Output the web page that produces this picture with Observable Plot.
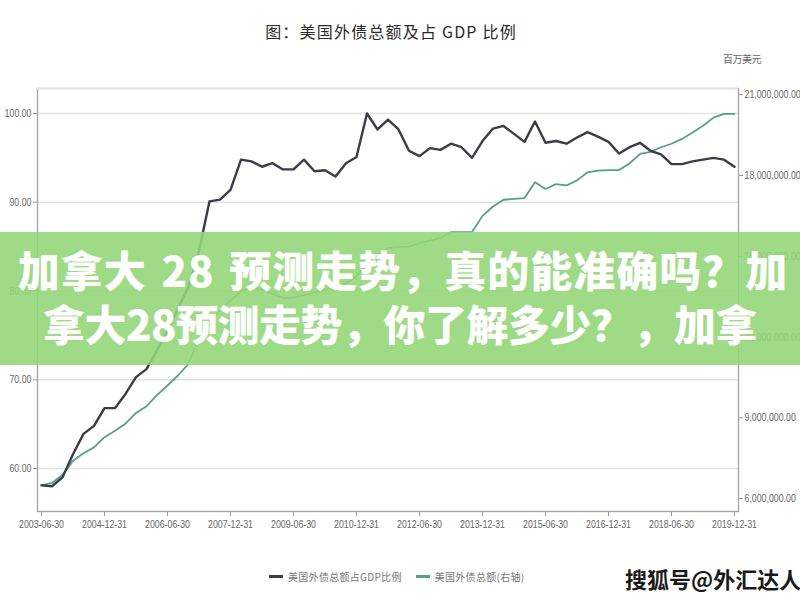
<!DOCTYPE html>
<html>
<head>
<meta charset="utf-8">
<script src="https://cdn.jsdelivr.net/npm/d3@7"></script>
<script src="https://cdn.jsdelivr.net/npm/@observablehq/plot@0.6"></script>
<style>
  html, body { margin: 0; padding: 0; background: #fff; }
  #wrap { position: relative; width: 800px; height: 600px; overflow: hidden; background: #fff; }
  #chart { position: absolute; left: 0; top: 0; }
  #chart svg text { font-family: "Liberation Sans", Arial, sans-serif; font-size: 11px; }
  .abs { position: absolute; z-index: 2; }
  #title { left: 0; top: 19px; width: 782px; text-align: center; font: 16px "Noto Sans CJK SC", sans-serif; color: #2a2a2a; letter-spacing: 1.2px; }
  #unit { left: 723px; top: 51px; font: 10px "Noto Sans CJK SC", sans-serif; color: #666; letter-spacing: -0.5px; }
  #legend { left: 269px; top: 569px; font: 10px "Noto Sans CJK SC", sans-serif; color: #777; display: flex; align-items: center; white-space: nowrap; letter-spacing: 0.3px; }
  .sw { display: inline-block; width: 14px; height: 3px; margin-right: 5px; }
  .item { display: flex; align-items: center; margin-right: 14px; }
  #banner { left: 0; top: 232px; width: 800px; height: 133px; background: rgba(146, 214, 118, 0.88); z-index: 3;
            color: #fff; font: 900 42px "Noto Sans CJK SC", sans-serif; text-align: center; line-height: 54px; padding-top: 10px; box-sizing: border-box; white-space: nowrap; letter-spacing: -0.5px; }
  #banner .l1 { word-spacing: 4px; letter-spacing: 1px; margin-left: 6px; }
  #wm { left: 625px; top: 562px; font: bold 22px "Noto Sans CJK SC", sans-serif; color: #1a1a1a; z-index: 4;
        text-shadow: 1px 1px 0 #fff, -1px -1px 0 #fff, 1px -1px 0 #fff, -1px 1px 0 #fff; white-space: nowrap; }
</style>
</head>
<body>
<div id="wrap">
  <div id="chart"></div>
  <div id="title" class="abs">图：美国外债总额及占 GDP 比例</div>
  <div id="unit" class="abs">百万美元</div>
  <div id="legend" class="abs"></div>
  <div id="banner" class="abs"><div class="l1">加拿大 28 预测走势，真的能准确吗？加</div><div>拿大28预测走势，你了解多少？，加拿</div></div>
  <div id="wm" class="abs">搜狐号@外汇达人</div>
</div>
<script>
// Quarter-end dates (categories)
const dates = [
  "2003-06-30","2003-09-30","2003-12-31",
  "2004-03-31","2004-06-30","2004-09-30","2004-12-31",
  "2005-03-31","2005-06-30","2005-09-30","2005-12-31",
  "2006-03-31","2006-06-30","2006-09-30","2006-12-31",
  "2007-03-31","2007-06-30","2007-09-30","2007-12-31",
  "2008-03-31","2008-06-30","2008-09-30","2008-12-31",
  "2009-03-31","2009-06-30","2009-09-30","2009-12-31",
  "2010-03-31","2010-06-30","2010-09-30","2010-12-31",
  "2011-03-31","2011-06-30","2011-09-30","2011-12-31",
  "2012-03-31","2012-06-30","2012-09-30","2012-12-31",
  "2013-03-31","2013-06-30","2013-09-30","2013-12-31",
  "2014-03-31","2014-06-30","2014-09-30","2014-12-31",
  "2015-03-31","2015-06-30","2015-09-30","2015-12-31",
  "2016-03-31","2016-06-30","2016-09-30","2016-12-31",
  "2017-03-31","2017-06-30","2017-09-30","2017-12-31",
  "2018-03-31","2018-06-30","2018-09-30","2018-12-31",
  "2019-03-31","2019-06-30","2019-09-30","2019-12-31"
];

// 美国外债总额占GDP比例 (%)
const ratio = [
  58.1, 58.0, 59.0, 61.6, 63.9, 64.8, 66.8, 66.8, 68.4, 70.3,
  71.2, 73.3, 75.5, 78.0, 80.5, 84.5, 90.1, 90.3, 91.4, 94.8,
  94.6, 94.0, 94.4, 93.7, 93.7, 94.8, 93.5, 93.6, 92.9, 94.4,
  95.1, 100.0, 98.2, 99.3, 98.2, 95.8, 95.2, 96.1, 95.9, 96.6,
  96.2, 95.0, 96.9, 98.3, 98.6, 97.7, 96.8, 99.1, 96.7, 96.9,
  96.6, 97.3, 97.9, 97.4, 96.8, 95.5, 96.2, 96.7, 95.8, 95.4,
  94.3, 94.3, 94.6, 94.8, 95.0, 94.8, 94.0
];

// 美国外债总额 (右轴), in units of 1,000,000 百万美元
const debt = [
  6.50, 6.58, 6.88, 7.40, 7.68, 7.90, 8.28, 8.52, 8.78, 9.18,
  9.43, 9.84, 10.20, 10.57, 11.00, 11.95, 12.50, 13.00, 13.35, 13.70,
  13.85, 13.75, 13.60, 13.45, 13.45, 13.55, 13.65, 13.75, 13.85, 14.00,
  14.25, 14.75, 15.05, 15.30, 15.35, 15.35, 15.50, 15.58, 15.68, 15.90,
  15.90, 15.90, 16.50, 16.85, 17.10, 17.13, 17.16, 17.75, 17.50, 17.68,
  17.63, 17.82, 18.12, 18.18, 18.20, 18.20, 18.45, 18.80, 18.88, 19.05,
  19.18, 19.36, 19.60, 19.85, 20.15, 20.29, 20.29
];

const xTicks = ["2003-06-30","2004-12-31","2006-06-30","2007-12-31","2009-06-30","2010-12-31",
                "2012-06-30","2013-12-31","2015-06-30","2016-12-31","2018-06-30","2019-12-31"];
const leftTicks = [60, 70, 80, 90, 100];
const rightTicks = [6, 9, 12, 15, 18, 21];

const seriesNames = ["美国外债总额占GDP比例", "美国外债总额(右轴)"];
const seriesColors = ["#3b3c48", "#55a088"];

// Scale domains: left (%) and right (百万美元 ×1e6) share the same pixel range
const yLo = 55.155, yHi = 102.817;
const rLo = 5.518, rHi = 21.232;
const toLeft = d3.scaleLinear([rLo, rHi], [yLo, yHi]);

const data = dates.map((d, i) => ({date: d, ratio: ratio[i], debt: debt[i]}));

const chart = Plot.plot({
  width: 800,
  height: 540,
  marginTop: 88,
  marginBottom: 29,
  marginLeft: 37,
  marginRight: 62,
  style: {background: "transparent", fontSize: "11px", color: "#666"},
  x: {type: "point", domain: dates, padding: 0.38},
  y: {domain: [yLo, yHi]},
  marks: [
    Plot.gridY(leftTicks, {stroke: "#e2e2e2", strokeOpacity: 1, strokeWidth: 1.6}),
    Plot.frame({stroke: "#a3a3a3", strokeWidth: 1.3}),
    Plot.ruleY([yHi], {stroke: "#e4e4e4", strokeWidth: 1.5}),
    Plot.axisY(leftTicks, {anchor: "left", tickFormat: d3.format(".2f"), tickSize: 4, tickPadding: 2,
      label: null, stroke: "#999", fill: "#666"}),
    Plot.axisY(rightTicks.map(t => toLeft(t)), {anchor: "right", tickSize: 4, tickPadding: 2, label: null,
      stroke: "#999", fill: "#666",
      tickFormat: v => d3.format(",.2f")(Math.round(toLeft.invert(v)) * 1e6)}),
    Plot.axisX(xTicks, {anchor: "bottom", tickSize: 5, tickPadding: 4, label: null, stroke: "#999", fill: "#666"}),
    Plot.line(data, {x: "date", y: d => toLeft(d.debt), stroke: seriesColors[1], strokeWidth: 1.8}),
    Plot.line(data, {x: "date", y: "ratio", stroke: seriesColors[0], strokeWidth: 2.4})
  ]
});
// Condense tick labels horizontally (the reference uses a narrow face)
chart.querySelectorAll('g[aria-label$="tick label"] text').forEach(t => {
  const tr = t.getAttribute("transform") || "";
  t.setAttribute("transform", tr + " scale(0.8,1)");
});
document.getElementById("chart").appendChild(chart);

const legend = document.getElementById("legend");
seriesNames.forEach((name, i) => {
  const item = document.createElement("span");
  item.className = "item";
  const sw = document.createElement("span");
  sw.className = "sw";
  sw.style.background = seriesColors[i];
  item.appendChild(sw);
  item.appendChild(document.createTextNode(name));
  legend.appendChild(item);
});
</script>
</body>
</html>
